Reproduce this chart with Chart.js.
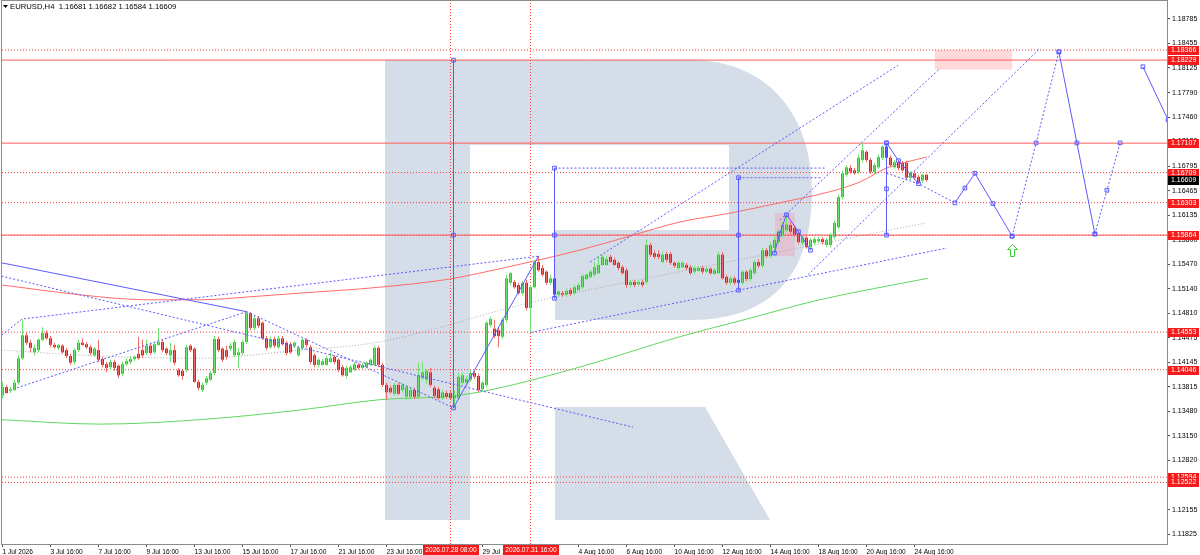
<!DOCTYPE html>
<html>
<head>
<meta charset="utf-8">
<title>EURUSD,H4</title>
<script src="https://cdn.jsdelivr.net/npm/chart.js@4.4.1/dist/chart.umd.min.js"></script>
<style>
  html, body { margin: 0; padding: 0; background: #fff; }
  #box { width: 1200px; height: 555px; }
</style>
</head>
<body>
<div id="box"><canvas id="chart" width="1200" height="555"></canvas></div>
<script>
// H4 candles, bar 0 = 1 Jul 2026 16:00, last bar = 25 Aug 2026 04:00
const opens = [
  1.1370,1.1381,1.1376,1.1377,1.1387,1.1420,1.1451,1.1441,1.1428,1.1431,
  1.1445,1.1454,1.1447,1.1438,1.1434,1.1437,1.1431,1.1423,1.1415,1.1431,
  1.1441,1.1439,1.1435,1.1424,1.1431,1.1419,1.1412,1.1408,1.1415,1.1410,
  1.1399,1.1412,1.1415,1.1419,1.1426,1.1431,1.1427,1.1437,1.1428,1.1438,
  1.1442,1.1433,1.1424,1.1431,1.1404,1.1403,1.1404,1.1437,1.1433,1.1388,
  1.1377,1.1387,1.1391,1.1400,1.1446,1.1433,1.1431,1.1433,1.1424,1.1424,
  1.1427,1.1442,1.1481,1.1461,1.1474,1.1468,1.1447,1.1435,1.1446,1.1435,
  1.1447,1.1441,1.1439,1.1437,1.1424,1.1434,1.1445,1.1435,1.1424,1.1411,
  1.1411,1.1411,1.1415,1.1422,1.1418,1.1408,1.1396,1.1401,1.1404,1.1411,
  1.1407,1.1408,1.1411,1.1411,1.1434,1.1411,1.1384,1.1380,1.1372,1.1384,
  1.1377,1.1368,1.1368,1.1377,1.1368,1.1393,1.1391,1.1401,1.1380,1.1378,
  1.1366,1.1373,1.1373,1.1366,1.1366,1.1387,1.1387,1.1391,1.1400,1.1396,
  1.1378,1.1384,1.1465,1.1460,1.1458,1.1449,1.1472,1.1522,1.1523,1.1519,
  1.1508,1.1522,1.1488,1.1516,1.1550,1.1542,1.1537,1.1522,1.1528,1.1506,
  1.1508,1.1506,1.1512,1.1508,1.1512,1.1516,1.1527,1.1530,1.1533,1.1535,
  1.1546,1.1546,1.1557,1.1553,1.1549,1.1543,1.1539,1.1519,1.1523,1.1520,
  1.1523,1.1523,1.1573,1.1562,1.1561,1.1550,1.1561,1.1561,1.1549,1.1542,
  1.1543,1.1546,1.1543,1.1537,1.1538,1.1542,1.1537,1.1541,1.1534,1.1535,
  1.1560,1.1530,1.1522,1.1528,1.1526,1.1522,1.1537,1.1527,1.1535,1.1550,
  1.1545,1.1566,1.1558,1.1569,1.1577,1.1587,1.1593,1.1600,1.1596,1.1589,
  1.1576,1.1583,1.1570,1.1576,1.1578,1.1581,1.1573,1.1573,1.1584,1.1597,
  1.1638,1.1668,1.1677,1.1674,1.1672,1.1688,1.1699,1.1688,1.1672,1.1678,
  1.1691,1.1706,1.1691,1.1678,1.1685,1.1684,1.1684,1.1664,1.1670,1.1665,
  1.1660,1.16681
];
const highs = [
  1.1388,1.1384,1.1381,1.1391,1.1424,1.1472,1.1455,1.1445,1.1438,1.1447,
  1.1462,1.1458,1.1450,1.1441,1.1439,1.1439,1.1434,1.1426,1.1434,1.1445,
  1.1447,1.1442,1.1438,1.1435,1.1445,1.1422,1.1415,1.1418,1.1418,1.1412,
  1.1415,1.1420,1.1423,1.1424,1.1449,1.1445,1.1445,1.1441,1.1442,1.1461,
  1.1445,1.1435,1.1441,1.1438,1.1407,1.1405,1.1438,1.1439,1.1435,1.1391,
  1.1387,1.1396,1.1403,1.1450,1.1449,1.1435,1.1437,1.1441,1.1445,1.1434,
  1.1445,1.1483,1.1483,1.1477,1.1477,1.1470,1.1450,1.1449,1.1449,1.1450,
  1.1450,1.1443,1.1442,1.1443,1.1437,1.1447,1.1447,1.1438,1.1427,1.1420,
  1.1419,1.1423,1.1427,1.1424,1.1420,1.1411,1.1410,1.1411,1.1415,1.1414,
  1.1414,1.1416,1.1420,1.1437,1.1437,1.1414,1.1387,1.1383,1.1387,1.1387,
  1.1387,1.1384,1.1380,1.1380,1.1414,1.1415,1.1405,1.1407,1.1383,1.1381,
  1.1377,1.1376,1.1376,1.1376,1.1401,1.1400,1.1396,1.1404,1.1403,1.1399,
  1.1389,1.1470,1.1476,1.1472,1.1461,1.1474,1.1533,1.1537,1.1526,1.1522,
  1.1524,1.1526,1.1519,1.1553,1.1558,1.1546,1.1539,1.1533,1.1531,1.1512,
  1.1511,1.1514,1.1515,1.1519,1.1522,1.1534,1.1535,1.1539,1.1550,1.1558,
  1.1560,1.1558,1.1560,1.1556,1.1551,1.1546,1.1542,1.1526,1.1526,1.1526,
  1.1526,1.1580,1.1576,1.1566,1.1566,1.1564,1.1564,1.1564,1.1551,1.1551,
  1.1551,1.1549,1.1546,1.1545,1.1545,1.1545,1.1543,1.1543,1.1542,1.1564,
  1.1564,1.1533,1.1531,1.1531,1.1528,1.1539,1.1539,1.1542,1.1553,1.1554,
  1.1569,1.1569,1.1577,1.1585,1.1593,1.1604,1.1614,1.1604,1.1600,1.1592,
  1.1585,1.1585,1.1583,1.1584,1.1584,1.1584,1.1583,1.1589,1.1606,1.1641,
  1.1673,1.1681,1.1681,1.1677,1.1695,1.1711,1.1701,1.1691,1.1684,1.1695,
  1.1708,1.1711,1.1694,1.1688,1.1688,1.1687,1.1687,1.1673,1.1673,1.1668,
  1.1670,1.16682
];
const lows = [
  1.1366,1.1372,1.1373,1.1376,1.1384,1.1418,1.1438,1.1428,1.1424,1.1428,
  1.1443,1.1445,1.1435,1.1433,1.1431,1.1426,1.1420,1.1411,1.1412,1.1428,
  1.1437,1.1433,1.1424,1.1422,1.1415,1.1408,1.1401,1.1404,1.1403,1.1393,
  1.1396,1.1410,1.1412,1.1416,1.1418,1.1420,1.1424,1.1424,1.1426,1.1437,
  1.1428,1.1424,1.1415,1.1411,1.1395,1.1391,1.1401,1.1428,1.1387,1.1377,
  1.1374,1.1384,1.1389,1.1397,1.1428,1.1415,1.1418,1.1430,1.1422,1.1407,
  1.1424,1.1439,1.1458,1.1458,1.1461,1.1445,1.1431,1.1433,1.1434,1.1433,
  1.1437,1.1424,1.1426,1.1434,1.1422,1.1431,1.1435,1.1412,1.1408,1.1408,
  1.1410,1.1410,1.1414,1.1412,1.1401,1.1395,1.1393,1.1400,1.1403,1.1405,
  1.1405,1.1407,1.1410,1.1410,1.1408,1.1381,1.1364,1.1372,1.1369,1.1370,
  1.1374,1.1364,1.1365,1.1365,1.1365,1.1391,1.1385,1.1381,1.1366,1.1364,
  1.1364,1.1365,1.1364,1.1353,1.1364,1.1384,1.1384,1.1388,1.1392,1.1374,
  1.1376,1.1381,1.1462,1.1447,1.1435,1.1446,1.1469,1.1519,1.1514,1.1506,
  1.1506,1.1485,1.1455,1.1514,1.1537,1.1530,1.1519,1.1519,1.1501,1.1503,
  1.1503,1.1503,1.1504,1.1506,1.1511,1.1514,1.1526,1.1528,1.1531,1.1534,
  1.1545,1.1545,1.1549,1.1545,1.1539,1.1533,1.1515,1.1516,1.1516,1.1518,
  1.1516,1.1520,1.1557,1.1554,1.1554,1.1549,1.1550,1.1546,1.1542,1.1539,
  1.1542,1.1539,1.1533,1.1534,1.1537,1.1534,1.1535,1.1533,1.1533,1.1534,
  1.1526,1.1519,1.1519,1.1519,1.1512,1.1519,1.1524,1.1524,1.1533,1.1542,
  1.1542,1.1556,1.1556,1.1562,1.1574,1.1583,1.1591,1.1588,1.1584,1.1574,
  1.1573,1.1568,1.1566,1.1573,1.1576,1.1574,1.1570,1.1570,1.1581,1.1595,
  1.1635,1.1665,1.1669,1.1668,1.1669,1.1685,1.1685,1.1669,1.1669,1.1676,
  1.1688,1.1685,1.1678,1.1676,1.1674,1.1672,1.1661,1.1661,1.1661,1.1656,
  1.1657,1.16584
];
const closes = [
  1.1381,1.1373,1.1378,1.1387,1.1420,1.1451,1.1441,1.1434,1.1434,1.1445,
  1.1454,1.1447,1.1438,1.1435,1.1438,1.1428,1.1423,1.1414,1.1431,1.1441,
  1.1438,1.1435,1.1427,1.1433,1.1418,1.1411,1.1407,1.1415,1.1407,1.1397,
  1.1412,1.1416,1.1419,1.1422,1.1420,1.1424,1.1437,1.1427,1.1439,1.1442,
  1.1431,1.1427,1.1431,1.1414,1.1397,1.1396,1.1435,1.1431,1.1388,1.1380,
  1.1384,1.1393,1.1400,1.1446,1.1431,1.1418,1.1422,1.1437,1.1442,1.1428,
  1.1442,1.1481,1.1461,1.1474,1.1464,1.1447,1.1434,1.1446,1.1437,1.1447,
  1.1439,1.1427,1.1428,1.1441,1.1434,1.1445,1.1438,1.1415,1.1411,1.1418,
  1.1416,1.1420,1.1420,1.1415,1.1404,1.1397,1.1407,1.1408,1.1412,1.1407,
  1.1411,1.1414,1.1418,1.1434,1.1411,1.1384,1.1374,1.1374,1.1384,1.1372,
  1.1384,1.1381,1.1377,1.1368,1.1397,1.1401,1.1403,1.1384,1.1369,1.1366,
  1.1374,1.1368,1.1366,1.1370,1.1395,1.1397,1.1392,1.1400,1.1395,1.1377,
  1.1387,1.1468,1.1473,1.1450,1.1450,1.1472,1.1528,1.1535,1.1516,1.1508,
  1.1522,1.1488,1.1516,1.1550,1.1539,1.1533,1.1522,1.1528,1.1506,1.1510,
  1.1506,1.1511,1.1507,1.1516,1.1519,1.1531,1.1533,1.1537,1.1543,1.1546,
  1.1557,1.1554,1.1550,1.1546,1.1542,1.1535,1.1519,1.1523,1.1519,1.1523,
  1.1519,1.1573,1.1560,1.1557,1.1557,1.1560,1.1553,1.1549,1.1545,1.1549,
  1.1549,1.1542,1.1535,1.1542,1.1542,1.1537,1.1541,1.1535,1.1539,1.1560,
  1.1528,1.1522,1.1528,1.1522,1.1522,1.1537,1.1527,1.1539,1.1550,1.1545,
  1.1566,1.1558,1.1573,1.1580,1.1591,1.1600,1.1601,1.1591,1.1587,1.1577,
  1.1583,1.1570,1.1580,1.1581,1.1581,1.1577,1.1580,1.1587,1.1603,1.1638,
  1.1670,1.1678,1.1672,1.1670,1.1691,1.1701,1.1688,1.1672,1.1681,1.1692,
  1.1706,1.1691,1.1681,1.1685,1.1677,1.1674,1.1664,1.1670,1.1664,1.1657,
  1.1668,1.16609
];

// axis ticks
const xTickIndex = [0, 12, 24, 36, 48, 60, 72, 84, 96, 120, 144, 156, 168, 180, 192, 204, 216, 228];
const xTickLabels = ['1 Jul 2026', '3 Jul 16:00', '7 Jul 16:00', '9 Jul 16:00', '13 Jul 16:00', '15 Jul 16:00',
  '17 Jul 16:00', '21 Jul 16:00', '23 Jul 16:00', '29 Jul 16:00', '4 Aug 16:00', '6 Aug 16:00',
  '10 Aug 16:00', '12 Aug 16:00', '14 Aug 16:00', '18 Aug 16:00', '20 Aug 16:00', '24 Aug 16:00'];
const yTickValues = [1.18785, 1.18455, 1.18125, 1.17790, 1.17460, 1.17130, 1.16795, 1.16465, 1.16135, 1.15800,
  1.15470, 1.15140, 1.14810, 1.14475, 1.14145, 1.13815, 1.13480, 1.13150, 1.12820, 1.12485, 1.12155, 1.11825];

// horizontal levels
const levelSolid = [1.18229, 1.17107, 1.15864];
const levelDotted = [1.18366, 1.16709, 1.16303, 1.15864, 1.14553, 1.14046, 1.12594, 1.12522];
const levelLabels = [1.18366, 1.18229, 1.17107, 1.16709, 1.16303, 1.15864, 1.14553, 1.14046, 1.12594, 1.12522];
const lastPrice = 1.16609;

// vertical time markers
const markedTimes = [112, 132];
const markedTimeLabels = ['2026.07.28 08:00', '2026.07.31 16:00'];

// moving averages
const maRedIdx = [-0.25, 24.25, 36.75, 49.25, 61.75, 74.25, 94.25, 111.75, 119.25, 131.75, 144.25, 156.75, 169.25, 181.75, 194.25, 206.75, 214.25, 221, 231];
const maRedVal = [1.1519, 1.1503, 1.1499, 1.1499, 1.1503, 1.1508, 1.1516, 1.1527, 1.1535, 1.1550, 1.1566, 1.1585, 1.1604, 1.1616, 1.1630, 1.1645, 1.1658, 1.1677, 1.1692];
const maGreenIdx = [-0.25, 24.25, 49.25, 74.25, 94.25, 112.5, 121.75, 144.25, 169.25, 186.75, 204.25, 231.25];
const maGreenVal = [1.1337, 1.1331, 1.1337, 1.1350, 1.1364, 1.1369, 1.1377, 1.1408, 1.1449, 1.1474, 1.1499, 1.1528];
const midGrayIdx = [-0.25, 24.25, 49.25, 74.25, 94.25, 131.75, 169.25, 231];
const midGrayVal = [1.1431, 1.1423, 1.1420, 1.1431, 1.1442, 1.1495, 1.1537, 1.1603];

// trend lines [bar index, price]
const trendSolid = [
  [[-0.25, 1.1549], [61, 1.1483]],
  [[112.75, 1.1353], [134, 1.1558]]
];
const trendDotted = [
  [[61, 1.1483], [112.75, 1.1353]],
  [[-0.25, 1.1531], [157.6, 1.1327]],
  [[-0.25, 1.1451], [4.9, 1.1473], [134.1, 1.1558]],
  [[3.6, 1.1380], [61.1, 1.1483]],
  [[132.1, 1.1455], [236.1, 1.1569]],
  [[146.9, 1.1550], [223.9, 1.1816]],
  [[194.4, 1.1607], [234.4, 1.1812]],
  [[201.4, 1.1533], [259.4, 1.1839]],
  [[138, 1.1677], [206, 1.1677]],
  [[184, 1.1664], [205, 1.1664]],
  [[221, 1.1670], [229, 1.1656], [238.1, 1.1630]]
];
const waveSolid = [
  [[193, 1.1562], [194.25, 1.1588], [196, 1.1614], [199, 1.1591], [202, 1.1566]],
  [[221, 1.1711], [224, 1.1687], [229, 1.1656]],
  [[238.1, 1.1630], [240.6, 1.1650], [243.1, 1.1670], [247.6, 1.1629], [252.4, 1.1585]],
  [[264.1, 1.1834], [268.6, 1.1711], [273.1, 1.1588]],
  [[285.1, 1.1814], [291.4, 1.1742]]
];
const waveDotted = [
  [[252.4, 1.1585], [258.4, 1.1711], [264.1, 1.1834]],
  [[273.1, 1.1588], [276.1, 1.1647], [279.4, 1.1711]]
];
const vLineIdx = [112.75, 138, 184, 221];
const vLineTop = [1.18229, 1.1677, 1.1664, 1.1711];
const vLineMid = [1.15864, 1.15864, 1.15864, 1.1649];
const vLineBottom = [1.1353, 1.1501, 1.1512, 1.15864];

// zones and arrow
const zoneStart = [233.1, 193.1];
const zoneEnd = [252.4, 198.1];
const zoneHigh = [1.18366, 1.1616];
const zoneLow = [1.1810, 1.1558];
const arrowIdx = [252.3];
const arrowPrice = [1.1566];

const X_MIN = -0.125, X_MAX = 291.125;
const Y_MIN = 1.11690, Y_MAX = 1.19028;
const FONT = '"Liberation Sans", Arial, sans-serif';

const BLUE = '#5a5aff';
const bull = opens.map((o, i) => closes[i] >= o);

function pts(list) { return list.map(p => ({ x: p[0], y: p[1] })); }
function lineDs(data, color, dash, order, radius, extra) {
  return Object.assign({
    type: 'line', data, borderColor: color, borderWidth: 1, borderDash: dash,
    pointRadius: radius || 0, pointStyle: 'rect', pointBorderColor: color,
    pointBackgroundColor: 'rgba(255,255,255,0)', pointBorderWidth: 1,
    tension: 0, fill: false, order
  }, extra || {});
}

const datasets = [];
levelSolid.forEach(v => datasets.push(lineDs(pts([[X_MIN, v], [X_MAX, v]]), '#ff5a5a', [], 5)));
levelDotted.forEach(v => datasets.push(lineDs(pts([[X_MIN, v], [X_MAX, v]]), '#ff3c3c', [1, 2], 5)));
markedTimes.forEach(t => datasets.push(lineDs(pts([[t, Y_MIN], [t, Y_MAX]]), '#ff3c3c', [1, 2], 5)));

datasets.push(lineDs(maRedIdx.map((v, i) => ({ x: v, y: maRedVal[i] })), '#ff6b6b', [], 4, 0, { cubicInterpolationMode: 'monotone' }));
datasets.push(lineDs(maGreenIdx.map((v, i) => ({ x: v, y: maGreenVal[i] })), '#5fd75f', [], 4, 0, { cubicInterpolationMode: 'monotone' }));
datasets.push(lineDs(midGrayIdx.map((v, i) => ({ x: v, y: midGrayVal[i] })), '#a8a8a8', [1, 2], 4, 0, { cubicInterpolationMode: 'monotone' }));

trendSolid.forEach(l => datasets.push(lineDs(pts(l), BLUE, [], 0)));
trendDotted.forEach(l => datasets.push(lineDs(pts(l), BLUE, [2, 2], 0)));
waveSolid.forEach(l => datasets.push(lineDs(pts(l), BLUE, [], 0, 2.6)));
waveDotted.forEach(l => datasets.push(lineDs(pts(l), BLUE, [2, 2], 0, 2.6)));
vLineIdx.forEach((v, k) => datasets.push(lineDs(pts([[v, vLineTop[k]], [v, vLineMid[k]], [v, vLineBottom[k]]]), BLUE, [], 0, 2.6)));

// candles: wicks then bodies
datasets.push({
  type: 'bar', order: 1, grouped: false, barThickness: 1, inflateAmount: 0, borderWidth: 0,
  data: opens.map((o, i) => ({ x: i, y: [lows[i], highs[i]] })),
  backgroundColor: bull.map(b => b ? '#6ee06e' : '#f06a6a')
});
datasets.push({
  type: 'bar', order: 1, grouped: false, barThickness: 3, inflateAmount: 0, borderWidth: 0, minBarLength: 1,
  data: opens.map((o, i) => ({ x: i, y: [o, closes[i]] })),
  backgroundColor: bull.map(b => b ? '#18d418' : '#ea1a1a')
});

// watermark logo behind the chart
function drawLogo(ctx) {
  ctx.fillStyle = '#d5dde8';
  ctx.fillRect(385, 60, 85, 460);
  ctx.beginPath();
  ctx.moveTo(470, 60);
  ctx.lineTo(690, 60);
  ctx.bezierCurveTo(772, 60, 812, 120, 812, 190);
  ctx.bezierCurveTo(812, 268, 778, 320, 690, 320);
  ctx.lineTo(555, 320);
  ctx.lineTo(555, 230);
  ctx.lineTo(729, 230);
  ctx.lineTo(729, 145);
  ctx.lineTo(470, 145);
  ctx.closePath();
  ctx.fill();
  ctx.beginPath();
  ctx.moveTo(555, 407);
  ctx.lineTo(705, 407);
  ctx.lineTo(770, 520);
  ctx.lineTo(555, 520);
  ctx.closePath();
  ctx.fill();
}

const overlay = {
  id: 'overlay',
  beforeDatasetsDraw(chart) {
    const { ctx, chartArea: a, scales: { x, y } } = chart;
    ctx.save();
    ctx.beginPath();
    ctx.rect(a.left, a.top, a.width, a.height);
    ctx.clip();
    drawLogo(ctx);
    zoneStart.forEach((s, k) => {
      const x0 = x.getPixelForValue(s), x1 = x.getPixelForValue(zoneEnd[k]);
      const y0 = y.getPixelForValue(zoneHigh[k]), y1 = y.getPixelForValue(zoneLow[k]);
      ctx.fillStyle = k === 0 ? 'rgba(255,180,180,0.5)' : 'rgba(240,160,175,0.4)';
      ctx.fillRect(x0, y0, x1 - x0, y1 - y0);
    });
    ctx.restore();
  },
  afterDatasetsDraw(chart) {
    const { ctx, scales: { x, y } } = chart;
    ctx.save();
    // green up arrow
    arrowIdx.forEach((v, k) => {
      const cx = Math.round(x.getPixelForValue(v)) + 0.5, cy = Math.round(y.getPixelForValue(arrowPrice[k])) + 0.5;
      ctx.beginPath();
      ctx.moveTo(cx, cy - 6);
      ctx.lineTo(cx + 5, cy - 1);
      ctx.lineTo(cx + 2, cy - 1);
      ctx.lineTo(cx + 2, cy + 6);
      ctx.lineTo(cx - 2, cy + 6);
      ctx.lineTo(cx - 2, cy - 1);
      ctx.lineTo(cx - 5, cy - 1);
      ctx.closePath();
      ctx.fillStyle = '#fff';
      ctx.fill();
      ctx.strokeStyle = '#3ccf3c';
      ctx.lineWidth = 1;
      ctx.stroke();
    });
    // header
    ctx.fillStyle = '#000';
    ctx.beginPath();
    ctx.moveTo(3, 5); ctx.lineTo(8, 5); ctx.lineTo(5.5, 8); ctx.closePath();
    ctx.fill();
    ctx.font = '7.7px ' + FONT;
    ctx.textBaseline = 'middle';
    ctx.textAlign = 'left';
    ctx.fillText('EURUSD,H4  1.16681 1.16682 1.16584 1.16609', 10, 7);
    ctx.restore();
  },
  afterDraw(chart) {
    const { ctx, chartArea: a, scales: { x, y } } = chart;
    ctx.save();
    ctx.strokeStyle = '#8c8c8c';
    ctx.lineWidth = 1;
    ctx.strokeRect(a.left - 0.5, a.top - 0.5, a.width + 1, a.height + 1);
    ctx.font = '7px ' + FONT;
    ctx.textBaseline = 'middle';
    ctx.textAlign = 'left';
    const tag = (v, bg) => {
      const yy = y.getPixelForValue(v);
      ctx.fillStyle = bg;
      ctx.fillRect(a.right + 1, Math.round(yy) - 4, 31, 9);
      ctx.fillStyle = '#fff';
      ctx.fillText(v.toFixed(5), a.right + 4, Math.round(yy) + 0.5);
    };
    levelLabels.forEach(v => tag(v, '#f21c1c'));
    tag(lastPrice, '#000');
    ctx.font = '6.6px ' + FONT;
    ctx.textAlign = 'center';
    markedTimes.forEach((t, k) => {
      const xx = Math.round(x.getPixelForValue(t));
      ctx.fillStyle = '#f21c1c';
      ctx.fillRect(xx - 28, a.bottom + 1, 56, 10);
      ctx.fillStyle = '#fff';
      ctx.fillText(markedTimeLabels[k], xx, a.bottom + 6.5);
    });
    ctx.restore();
  }
};

function noPad(s) { s.paddingTop = 0; s.paddingBottom = 0; s.paddingLeft = 0; s.paddingRight = 0; }

new Chart(document.getElementById('chart'), {
  type: 'bar',
  data: { datasets },
  options: {
    responsive: false,
    animation: false,
    devicePixelRatio: 1,
    events: [],
    layout: { autoPadding: false, padding: { left: 2, top: 1, right: 0, bottom: 0 } },
    plugins: { legend: { display: false }, tooltip: { enabled: false } },
    scales: {
      x: {
        type: 'linear', min: X_MIN, max: X_MAX, offset: false, bounds: 'data',
        grid: { display: true, drawOnChartArea: false, drawTicks: true, tickLength: 3, color: '#555', offset: false },
        border: { display: false },
        afterBuildTicks: s => { s.ticks = xTickIndex.map(v => ({ value: v })); },
        afterFit: s => { s.height = 11; noPad(s); },
        ticks: {
          autoSkip: false, maxRotation: 0, minRotation: 0, align: 'start', padding: 1,
          color: '#000', font: { family: FONT, size: 6.6 },
          callback: (v, i) => xTickLabels[i]
        }
      },
      y: {
        type: 'linear', position: 'right', min: Y_MIN, max: Y_MAX, bounds: 'data', beginAtZero: false,
        grid: { display: true, drawOnChartArea: false, drawTicks: true, tickLength: 3, color: '#555' },
        border: { display: false },
        afterBuildTicks: s => { s.ticks = yTickValues.map(v => ({ value: v })); },
        afterFit: s => { s.width = 33; noPad(s); },
        ticks: {
          autoSkip: false, padding: 2, color: '#000', font: { family: FONT, size: 7 },
          callback: v => v.toFixed(5)
        }
      }
    }
  },
  plugins: [overlay]
});
</script>
</body>
</html>
